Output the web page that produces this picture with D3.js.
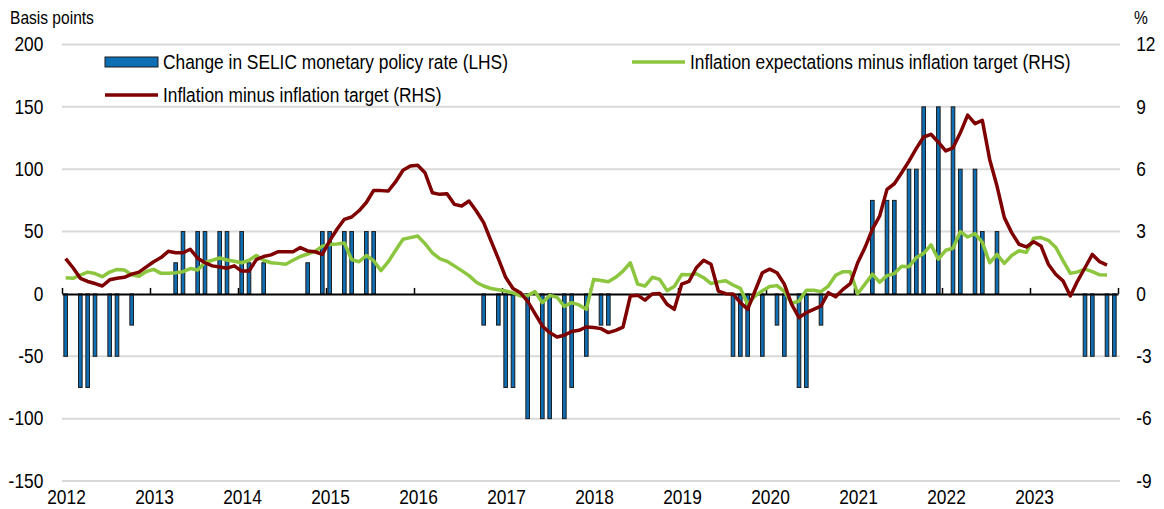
<!DOCTYPE html>
<html>
<head>
<meta charset="utf-8">
<script src="https://cdn.jsdelivr.net/npm/d3@7"></script>
<style>
body { margin: 0; background: #fff; }
svg text { font-family: "Liberation Sans", Arial, sans-serif; font-size: 19.5px; fill: #000; }
</style>
</head>
<body>
<svg width="1164" height="509"></svg>
<script>
// monthly data, Jan 2012 .. Dec 2023
var years = ["2012","2013","2014","2015","2016","2017","2018","2019","2020","2021","2022","2023"];

// change in SELIC rate, basis points (one value per month)
var selicChange = [
  -50, 0, -75, -75, -50, 0, -50, -50, 0, -25, 0, 0,      // 2012
  0, 0, 0, 25, 50, 0, 50, 50, 0, 50, 50, 0,              // 2013
  50, 25, 0, 25, 0, 0, 0, 0, 0, 25, 0, 50,               // 2014
  50, 0, 50, 50, 0, 50, 50, 0, 0, 0, 0, 0,               // 2015
  0, 0, 0, 0, 0, 0, 0, 0, 0, -25, 0, -25,                // 2016
  -75, -75, 0, -100, 0, -100, -100, 0, -100, -75, 0, -50,// 2017
  0, -25, -25, 0, 0, 0, 0, 0, 0, 0, 0, 0,                // 2018
  0, 0, 0, 0, 0, 0, 0, -50, -50, -50, 0, -50,            // 2019
  0, -25, -50, 0, -75, -75, 0, -25, 0, 0, 0, 0,          // 2020
  0, 0, 75, 0, 75, 75, 0, 100, 100, 150, 0, 150,         // 2021
  0, 150, 100, 0, 100, 50, 0, 50, 0, 0, 0, 0,            // 2022
  0, 0, 0, 0, 0, 0, 0, -50, -50, 0, -50, -50             // 2023
];

// inflation minus inflation target, % (Jan 2012 .. Nov 2023)
var inflationGap = [
  1.70, 1.26, 0.75, 0.60, 0.50, 0.38, 0.68, 0.75, 0.80, 0.95, 1.05, 1.30,
  1.55, 1.75, 2.05, 1.98, 1.98, 2.15, 1.72, 1.50, 1.35, 1.30, 1.24, 1.35,
  1.10, 1.10, 1.65, 1.80, 1.88, 2.03, 2.03, 2.03, 2.23, 2.07, 2.03, 1.90,
  2.55, 3.11, 3.59, 3.70, 4.00, 4.40, 4.98, 4.97, 4.95, 5.40, 5.95, 6.15,
  6.19, 5.83, 4.87, 4.79, 4.82, 4.31, 4.23, 4.47, 3.99, 3.43, 2.55, 1.70,
  0.80, 0.26, 0.06, -0.36, -0.95, -1.54, -1.86, -2.07, -1.99, -1.81, -1.75, -1.59,
  -1.62, -1.67, -1.86, -1.75, -1.60, -0.10, -0.06, -0.30, 0.00, 0.02, -0.50, -0.74,
  0.47, 0.60, 1.26, 1.62, 1.43, 0.14, 0.01, 0.00, -0.42, -0.74, 0.14, 1.02,
  1.19, 1.02, 0.47, -0.50, -1.14, -0.90, -0.74, -0.58, 0.06, -0.14, 0.22, 0.50,
  1.50, 2.23, 3.11, 3.75, 5.03, 5.30, 5.83, 6.39, 7.00, 7.55, 7.68, 7.30,
  6.88, 7.03, 7.75, 8.60, 8.19, 8.35, 6.47, 5.19, 3.67, 2.95, 2.39, 2.26,
  2.51, 2.31, 1.43, 0.95, 0.63, -0.10, 0.63, 1.26, 1.90, 1.55, 1.39
];

// inflation expectations minus inflation target, % (Jan 2012 .. Nov 2023)
var expectationsGap = [
  0.78, 0.75, 0.91, 1.05, 0.98, 0.83, 1.05, 1.18, 1.15, 0.92, 0.85, 1.08,
  1.18, 0.99, 0.99, 1.02, 1.07, 1.22, 1.15, 1.52, 1.62, 1.73, 1.63, 1.57,
  1.50, 1.62, 1.85, 1.62, 1.50, 1.47, 1.43, 1.62, 1.80, 1.92, 2.05, 2.30,
  2.38, 2.40, 2.45, 1.65, 1.55, 1.85, 1.60, 1.12, 1.55, 2.10, 2.63, 2.71,
  2.79, 2.42, 1.98, 1.70, 1.57, 1.35, 1.12, 0.88, 0.56, 0.38, 0.26, 0.20,
  0.14, 0.05, -0.10, -0.08, 0.11, -0.42, -0.07, -0.16, -0.60, -0.42, -0.53, -0.74,
  0.70, 0.65, 0.59, 0.80, 1.10, 1.50, 0.47, 0.38, 0.80, 0.70, 0.16, 0.36,
  0.93, 0.92, 0.97, 0.78, 0.50, 0.58, 0.63, 0.43, 0.27, -0.50, -0.10, 0.15,
  0.36, 0.40, 0.12, -0.45, -0.34, 0.18, 0.18, 0.11, 0.38, 0.90, 1.07, 1.07,
  0.01, 0.47, 0.95, 0.56, 0.88, 0.98, 1.33, 1.31, 1.75, 1.95, 2.36, 1.67,
  2.10, 2.20, 3.00, 2.74, 2.90, 2.48, 1.50, 1.90, 1.47, 1.85, 2.08, 2.00,
  2.68, 2.71, 2.58, 2.25, 1.60, 0.99, 1.06, 1.19, 1.07, 0.92, 0.91
];

var lhsTicks = [-150, -100, -50, 0, 50, 100, 150, 200];
var rhsTicks = [-9, -6, -3, 0, 3, 6, 9, 12];

var svg = d3.select("svg"),
    margin = {top: 44.5, right: 46, bottom: 28, left: 62},
    width = +svg.attr("width") - margin.left - margin.right,
    height = +svg.attr("height") - margin.top - margin.bottom,
    sx = 0.89; // condensed look of the text

var x = d3.scaleLinear().domain([0, selicChange.length]).range([margin.left, margin.left + width]);
var yL = d3.scaleLinear().domain([-150, 200]).range([margin.top + height, margin.top]);
var yR = d3.scaleLinear().domain([-9, 12]).range([margin.top + height, margin.top]);

function narrow(sel) { sel.selectAll("text").attr("transform", "scale(" + sx + ",1)"); }
function plain(d) { return String(d); }

// gridlines
svg.append("g")
    .selectAll("line")
    .data(lhsTicks.filter(function(d) { return d !== 0; }))
    .enter().append("line")
      .attr("x1", margin.left).attr("x2", margin.left + width + 2)
      .attr("y1", function(d) { return yL(d); })
      .attr("y2", function(d) { return yL(d); })
      .attr("stroke", "#d9d9d9")
      .attr("stroke-width", 2);

// left axis
svg.append("g")
    .attr("transform", "translate(" + margin.left + ",0)")
    .call(d3.axisLeft(yL).tickValues(lhsTicks).tickSize(0).tickPadding(21).tickFormat(plain))
    .call(function(g) { g.select(".domain").remove(); })
    .call(narrow)
    .selectAll("text").style("font-size", "19.5px").style("font-family", "Liberation Sans, Arial, sans-serif");

// right axis
svg.append("g")
    .attr("transform", "translate(" + (margin.left + width) + ",0)")
    .call(d3.axisRight(yR).tickValues(rhsTicks).tickSize(0).tickPadding(20.5).tickFormat(plain))
    .call(function(g) { g.select(".domain").remove(); })
    .call(narrow)
    .selectAll("text").style("font-size", "19.5px").style("font-family", "Liberation Sans, Arial, sans-serif");

// bars
var barW = 3.6;
var bars = selicChange
    .map(function(v, i) { return {i: i, v: v}; })
    .filter(function(d) { return d.v !== 0; });

svg.append("g")
    .selectAll("rect")
    .data(bars)
    .enter().append("rect")
      .attr("x", function(d) { return x(d.i + 0.5) - barW / 2; })
      .attr("width", barW)
      .attr("y", function(d) { return yL(Math.max(0, d.v)); })
      .attr("height", function(d) { return Math.abs(yL(d.v) - yL(0)); })
      .attr("fill", "#0f6fb5")
      .attr("stroke", "#1b1b1b")
      .attr("stroke-width", 1);

// zero axis with year ticks pointing up
var yearIdx = d3.range(0, selicChange.length + 1, 12);
svg.append("g")
    .attr("transform", "translate(0," + yL(0) + ")")
    .call(d3.axisBottom(x).tickValues(yearIdx).tickSize(-6).tickSizeOuter(0).tickFormat(""))
    .call(function(g) {
      g.select(".domain").attr("stroke", "#000").attr("stroke-width", 2);
      g.selectAll(".tick line").attr("stroke", "#000").attr("stroke-width", 1.5);
    });

// year labels at the bottom
svg.append("g")
    .attr("transform", "translate(0," + (margin.top + height) + ")")
    .call(d3.axisBottom(x).tickValues(yearIdx.slice(0, years.length)).tickSize(0).tickPadding(9)
      .tickFormat(function(d, i) { return years[i]; }))
    .call(function(g) { g.select(".domain").remove(); })
    .call(narrow)
    .selectAll("text").attr("x", 4 / sx).style("font-size", "19.5px").style("font-family", "Liberation Sans, Arial, sans-serif");

// lines
var line = function(vals) {
  return d3.line()
    .x(function(d, i) { return x(i + 0.5); })
    .y(function(d) { return yR(d); })(vals);
};

svg.append("path")
    .attr("d", line(expectationsGap))
    .attr("fill", "none")
    .attr("stroke", "#8cc63e")
    .attr("stroke-width", 3.5)
    .attr("stroke-linejoin", "round");

svg.append("path")
    .attr("d", line(inflationGap))
    .attr("fill", "none")
    .attr("stroke", "#7f0000")
    .attr("stroke-width", 3.5)
    .attr("stroke-linejoin", "round");

// titles and legend
function label(px, py, txt, anchor, size) {
  return svg.append("text")
    .attr("transform", "translate(" + px + "," + py + ") scale(" + sx + ",1)")
    .attr("dy", "0.35em")
    .attr("text-anchor", anchor || "start")
    .style("font-size", (size || 19.5) + "px")
    .text(txt);
}

label(10, 18, "Basis points", "start", 17.5);
label(1134, 18, "%", "start", 17.5);

svg.append("rect")
    .attr("x", 105).attr("y", 57).attr("width", 53).attr("height", 10)
    .attr("fill", "#0f6fb5").attr("stroke", "#1b1b1b").attr("stroke-width", 1);
label(163, 62, "Change in SELIC monetary policy rate (LHS)");

svg.append("line")
    .attr("x1", 632).attr("x2", 685).attr("y1", 62).attr("y2", 62)
    .attr("stroke", "#8cc63e").attr("stroke-width", 3.5);
label(690, 62, "Inflation expectations minus inflation target (RHS)");

svg.append("line")
    .attr("x1", 105).attr("x2", 158).attr("y1", 95).attr("y2", 95)
    .attr("stroke", "#7f0000").attr("stroke-width", 3.5);
label(163, 95, "Inflation minus inflation target (RHS)");
</script>
</body>
</html>
